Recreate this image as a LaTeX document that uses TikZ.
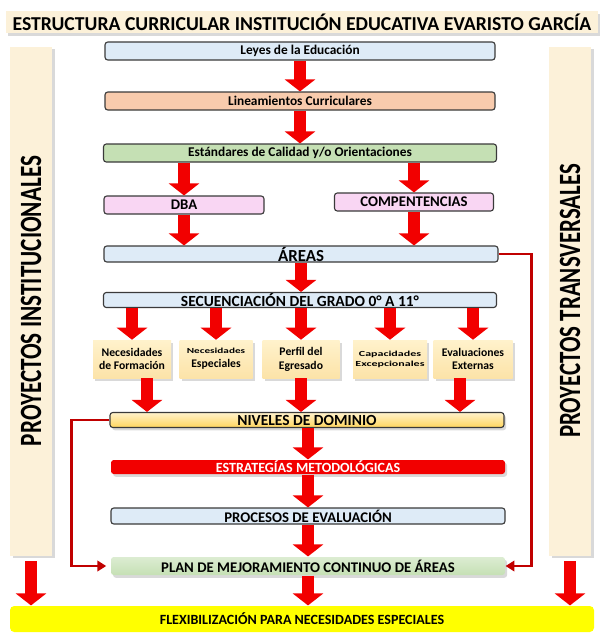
\documentclass[tikz,border=0pt]{standalone}
\usepackage{fontspec}
\setmainfont{Carlito}
\usetikzlibrary{positioning,calc,arrows.meta,shadows}
\definecolor{ley}{HTML}{DEEBF7}
\definecolor{lin}{HTML}{F8CBAD}
\definecolor{est}{HTML}{C5E0B4}
\definecolor{dbac}{HTML}{F9D6F3}
\definecolor{cre}{HTML}{FFF2CC}
\definecolor{crd}{HTML}{FCE3A8}
\definecolor{gold}{HTML}{FFD55C}
\definecolor{rojo}{HTML}{F20000}
\definecolor{vino}{HTML}{C00000}
\definecolor{side}{HTML}{FCF1D9}
\definecolor{flx}{HTML}{FFFF00}
\definecolor{ink}{HTML}{3A3A3A}
\newcommand{\px}{0.025cm}
\tikzset{
  box/.style={draw=ink,line width=0.8pt,rounded corners=2pt,inner sep=0pt,
    minimum height=18*\px,font=\fontsize{10.5}{12}\selectfont\bfseries,align=center},
  txt/.style={font=\fontsize{9.5}{11}\selectfont\bfseries},
  chip/.style={top color=cre,bottom color=crd,inner sep=0pt,minimum height=38*\px,
    font=\fontsize{8.3}{9.8}\selectfont\bfseries,align=center,
    drop shadow={opacity=0.3,shadow xshift=1.5pt,shadow yshift=-2pt}},
  sidecol/.style={fill=side,inner sep=0pt,minimum width=42*\px,minimum height=509*\px,
    font=\fontsize{22}{24}\selectfont\bfseries,
    drop shadow={opacity=0.3,shadow xshift=2pt,shadow yshift=-2pt}},
  shad/.style={drop shadow={opacity=0.3,shadow xshift=1.5pt,shadow yshift=-2pt}},
  arr/.style={draw=rojo,line width=0.32cm,-{Triangle[length=0.3cm,width=0.75cm]}},
  link/.style={draw=vino,line width=1.6pt,-{Triangle[length=2.2mm,width=2.6mm]}},
}
\begin{document}
\begin{tikzpicture}[x=\px,y=-\px]
  \useasboundingbox (0,0) rectangle (602,634);
  % titulo y columnas laterales
  \node[fill=side,shad,minimum width=592*\px,minimum height=22*\px,inner sep=0pt,
    font=\fontsize{14}{16}\selectfont\bfseries] (titulo) at (302,22)
    {ESTRUCTURA CURRICULAR INSTITUCIÓN EDUCATIVA EVARISTO GARCÍA};
  \node[sidecol] (instit) at (31,301)
    {\rotatebox{90}{\scalebox{0.75}[1]{PROYECTOS INSTITUCIONALES}}};
  \node[sidecol] (transv) at (570,301)
    {\rotatebox{90}{\scalebox{0.74}[1]{PROYECTOS TRANSVERSALES}}};
  % columna central
  \node[box,txt,fill=ley,minimum width=390*\px] (leyes) at (300,51) {Leyes de la Educación};
  \node[box,txt,fill=lin,minimum width=390*\px] (linea) at (300,101) {Lineamientos Curriculares};
  \node[box,txt,fill=est,minimum width=393*\px] (estand) at (300,153)
    {Estándares de Calidad y/o Orientaciones};
  \node[box,fill=dbac,minimum width=160*\px] (dba) at (184,205) {DBA};
  \node[box,fill=dbac,minimum width=159*\px] (compe) at (414,202) {COMPENTENCIAS};
  \node[box,fill=ley,minimum width=394*\px,minimum height=16*\px,
    font=\fontsize{12}{13}\selectfont\bfseries] (areas) at (301,254) {ÁREAS};
  \node[box,fill=ley,minimum width=393*\px,minimum height=15*\px,
    font=\fontsize{11}{12}\selectfont\bfseries] (secuen) at (300,300)
    {SECUENCIACIÓN DEL GRADO 0° A 11°};
  \node[chip,minimum width=78*\px] (nf) at (132,359) {Necesidades\\de Formación};
  \node[chip,minimum width=73*\px] (ne) at (216,359)
    {\scalebox{1.45}[1]{\fontsize{5.5}{7}\selectfont Necesidades}\\Especiales};
  \node[chip,minimum width=77*\px] (pe) at (301,359) {Perfil del\\Egresado};
  \node[chip,minimum width=74*\px,font=\fontsize{5.5}{7}\selectfont\bfseries] (ce) at (390,359)
    {\scalebox{1.55}[1]{Capacidades}\\\scalebox{1.55}[1]{Excepcionales}};
  \node[chip,minimum width=79*\px] (ee) at (473,359) {Evaluaciones\\Externas};
  \node[box,top color=cre,bottom color=gold,minimum width=394*\px,minimum height=15*\px,shad,
    font=\fontsize{11}{12}\selectfont\bfseries] (niveles) at (307,420) {NIVELES DE DOMINIO};
  \node[box,draw=none,fill=rojo,text=white,minimum width=394*\px,minimum height=14*\px,shad,
    font=\fontsize{10}{11}\selectfont\bfseries] (estrat) at (308,467) {ESTRATEGÍAS METODOLÓGICAS};
  \node[box,fill=ley,minimum width=394*\px,minimum height=16*\px] (proces) at (308,516)
    {PROCESOS DE EVALUACIÓN};
  \node[box,draw=none,top color=est!60,bottom color=est,minimum width=394*\px,shad]
    (plan) at (308,566) {PLAN DE MEJORAMIENTO CONTINUO DE ÁREAS};
  \node[box,draw=none,fill=flx,rounded corners=3pt,minimum width=584*\px,minimum height=26*\px,
    font=\fontsize{10}{11}\selectfont\bfseries] (flex) at (302,619)
    {FLEXIBILIZACIÓN PARA NECESIDADES ESPECIALES};
  % flechas gruesas
  \draw[arr] (leyes.south) -- (linea.north);
  \draw[arr] (linea.south) -- (estand.north);
  \draw[arr] (dba.north |- estand.south) -- (dba.north);
  \draw[arr] (compe.north |- estand.south) -- (compe.north);
  \draw[arr] (dba.south) -- (dba.south |- areas.north);
  \draw[arr] (compe.south) -- (compe.south |- areas.north);
  \draw[arr] (areas.south) -- (areas.south |- secuen.north);
  \foreach \b in {nf,ne,pe,ce,ee}
    \draw[arr] (\b.north |- secuen.south) -- (\b.north);
  \draw[arr] ($(nf.south)+(15,0)$) -- ($(nf.south |- niveles.north)+(15,0)$);
  \draw[arr] (pe.south) -- (pe.south |- niveles.north);
  \draw[arr] ($(ee.south)+(-13,0)$) -- ($(ee.south |- niveles.north)+(-13,0)$);
  \draw[arr] (estrat.north |- niveles.south) -- (estrat.north);
  \draw[arr] (estrat.south) -- (proces.north);
  \draw[arr] (proces.south) -- (plan.north);
  \draw[arr] (plan.south) -- (plan.south |- flex.north);
  \draw[arr] ([yshift=-4pt]instit.south) -- (instit.south |- flex.north);
  \draw[arr] ([yshift=-4pt]transv.south) -- (transv.south |- flex.north);
  % conectores finos
  \draw[link] (areas.east) -- ++(33,0) |- (plan.east);
  \draw[link] (niveles.west) -- ++(-38,0) |- ([xshift=-3pt]plan.west);
\end{tikzpicture}
\end{document}
